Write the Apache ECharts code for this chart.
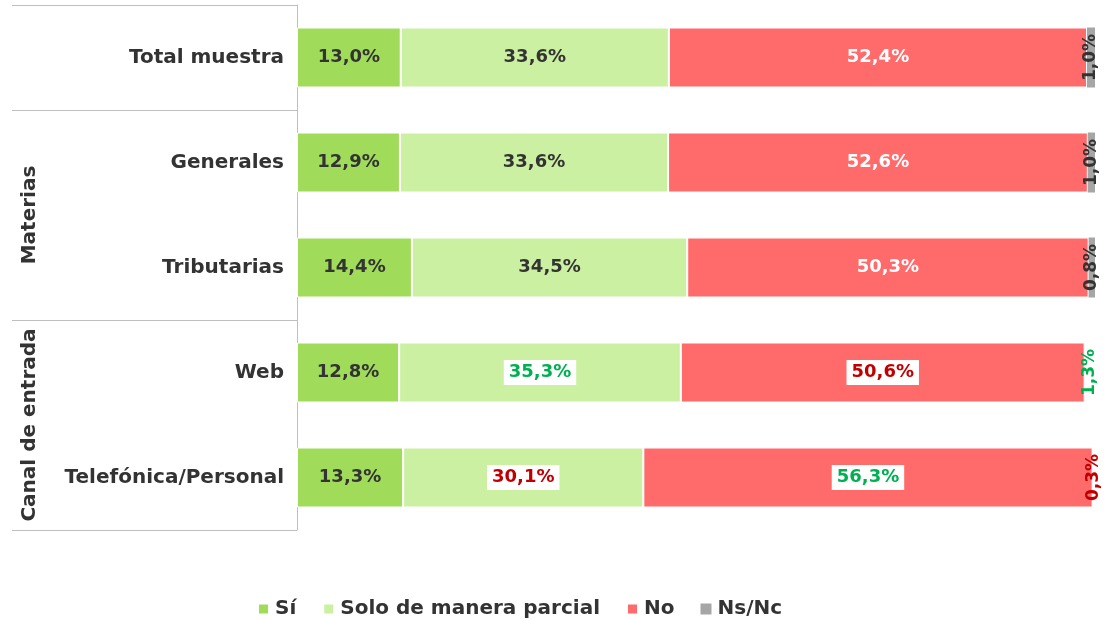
<!DOCTYPE html>
<html>
<head>
<meta charset="utf-8">
<script src="https://cdn.jsdelivr.net/npm/echarts@6/dist/echarts.min.js"></script>
<style>
  html, body { margin: 0; padding: 0; background: #fff; }
  #chart { width: 1106px; height: 620px; }
</style>
</head>
<body>
<div id="chart"></div>
<script>
// Survey answers per segment (percent of respondents)
const categories = ['Total muestra', 'Generales', 'Tributarias', 'Web', 'Telefónica/Personal'];
const si = [13.0, 12.9, 14.4, 12.8, 13.3];
const parcial = [33.6, 33.6, 34.5, 35.3, 30.1];
const no = [52.4, 52.6, 50.3, 50.6, 56.3];
const nsnc = [1.0, 1.0, 0.8, 1.3, 0.3];

// Values flagged as significantly higher (green) or lower (red)
const parcialFlag = [null, null, null, '#00B050', '#C00000'];
const noFlag = [null, null, null, '#C00000', '#00B050'];
const nsncFlag = [null, null, null, '#00B050', '#C00000'];

const seriesNames = ['Sí', 'Solo de manera parcial', 'No', 'Ns/Nc'];
const colors = ['#A0DC5A', '#CCF0A2', '#FF6B6B', '#A6A6A6'];

const FONT = 'DejaVu Sans, Verdana, sans-serif';
const TEXT = '#333333';
const LINE = '#BFBFBF';

const fmt = v => v.toFixed(1).replace('.', ',') + '%';

function plainLabel() {
  return {
    show: true, position: 'inside', color: TEXT,
    fontFamily: FONT, fontWeight: 'bold', fontSize: 18,
    formatter: p => fmt(p.value)
  };
}

function flaggedData(values, flags) {
  return values.map((v, i) => {
    if (!flags[i]) return v;
    return {
      value: v,
      label: {
        color: flags[i], backgroundColor: '#FFFFFF', padding: [4, 5, 3, 5]
      }
    };
  });
}

// Ns/Nc: rotated labels; flagged rows have no visible segment
const nsncData = nsnc.map((v, i) => {
  if (!nsncFlag[i]) return v;
  return {
    value: v,
    itemStyle: { color: 'rgba(0,0,0,0)', borderColor: 'rgba(0,0,0,0)' },
    label: { color: nsncFlag[i] }
  };
});

const barStyle = c => ({ color: c, borderColor: '#FFFFFF', borderWidth: 1 });

const chart = echarts.init(document.getElementById('chart'), null, { renderer: 'canvas' });

const gridTop = 5, gridH = 525, gridLeft = 297;
const band = gridH / categories.length;

chart.setOption({
  animation: false,
  textStyle: { fontFamily: FONT },
  grid: { left: gridLeft, top: gridTop, width: 798, height: gridH, containLabel: false },
  xAxis: {
    type: 'value', min: 0, max: 100, show: false
  },
  yAxis: {
    type: 'category', data: categories, inverse: true,
    axisLine: { show: true, lineStyle: { color: LINE, width: 1 } },
    axisTick: { show: false },
    axisLabel: {
      color: TEXT, fontFamily: FONT, fontWeight: 'bold', fontSize: 20, margin: 13
    }
  },
  legend: {
    data: seriesNames, left: 252, top: 594,
    icon: 'rect', itemWidth: 11, itemHeight: 11, itemGap: 26,
    textStyle: { color: TEXT, fontFamily: FONT, fontWeight: 'bold', fontSize: 20, padding: [0, 0, 0, 1] }
  },
  series: [
    {
      name: seriesNames[0], type: 'bar', stack: 'total', barWidth: 60,
      itemStyle: barStyle(colors[0]), label: plainLabel(), data: si
    },
    {
      name: seriesNames[1], type: 'bar', stack: 'total', barWidth: 60,
      itemStyle: barStyle(colors[1]), label: plainLabel(), data: flaggedData(parcial, parcialFlag)
    },
    {
      name: seriesNames[2], type: 'bar', stack: 'total', barWidth: 60,
      itemStyle: barStyle(colors[2]),
      label: Object.assign(plainLabel(), { color: '#FFFFFF' }),
      data: flaggedData(no, noFlag)
    },
    {
      name: seriesNames[3], type: 'bar', stack: 'total', barWidth: 60,
      itemStyle: { color: colors[3], borderWidth: 0 },
      label: Object.assign(plainLabel(), { rotate: 90, position: 'inside', offset: [6, 0], fontSize: 17 }),
      labelLayout: { hideOverlap: false },
      data: nsncData
    }
  ],
  graphic: [
    // table rules on the left side
    ...[0, 1, 3, 5].map(k => ({
      type: 'line', silent: true,
      shape: { x1: 12, y1: gridTop + k * band + 0.5, x2: gridLeft, y2: gridTop + k * band + 0.5 },
      style: { stroke: LINE, lineWidth: 1 }
    })),
    // group titles
    {
      type: 'text', silent: true, rotation: Math.PI / 2,
      x: 30, y: gridTop + 2 * band,
      style: { text: 'Materias', fill: TEXT, font: 'bold 20px ' + FONT, textAlign: 'center', textVerticalAlign: 'middle' }
    },
    {
      type: 'text', silent: true, rotation: Math.PI / 2,
      x: 30, y: gridTop + 4 * band,
      style: { text: 'Canal de entrada', fill: TEXT, font: 'bold 20px ' + FONT, textAlign: 'center', textVerticalAlign: 'middle' }
    }
  ]
});
</script>
</body>
</html>
